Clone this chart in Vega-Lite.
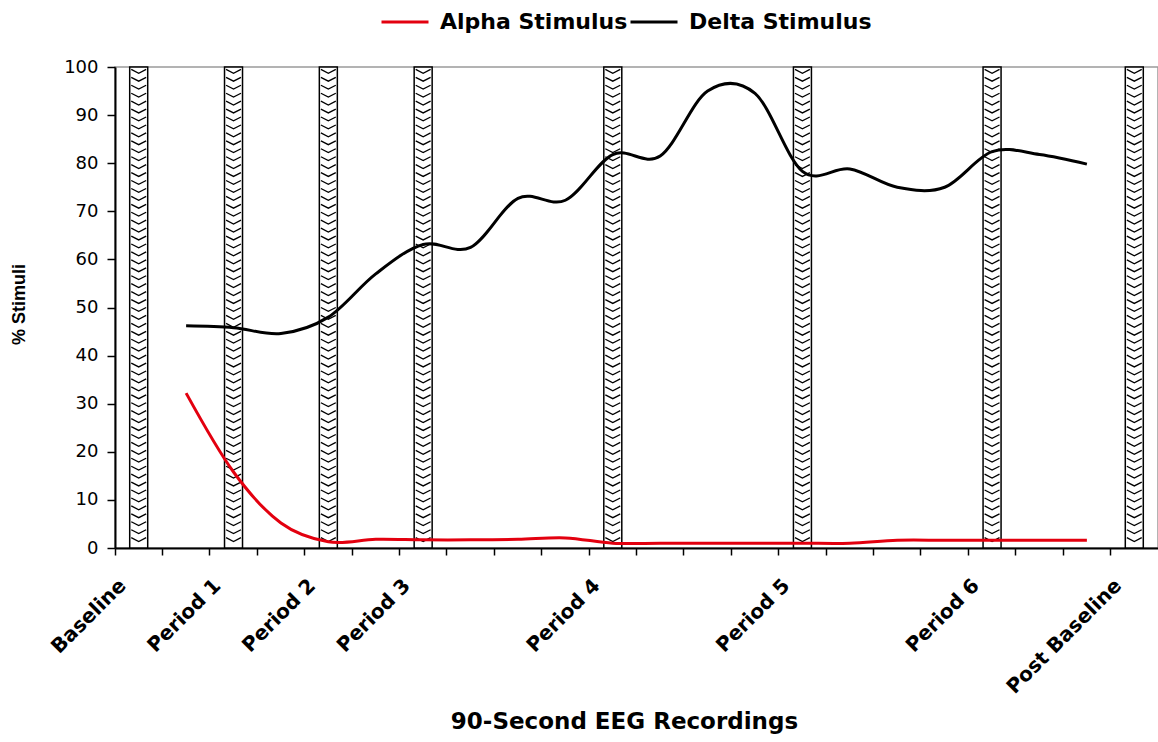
{
  "$schema": "https://vega.github.io/schema/vega-lite/v6.json",
  "width": 1043,
  "height": 481,
  "autosize": {"type": "none"},
  "padding": {"left": 115, "top": 67, "right": 0, "bottom": 194},
  "background": "white",
  "config": {
    "view": {"stroke": "#9a9a9a", "strokeWidth": 1.5},
    "font": "DejaVu Sans"
  },
  "datasets": {
    "bars": [
      {"cat": 0, "pct": 100},
      {"cat": 2, "pct": 100},
      {"cat": 4, "pct": 100},
      {"cat": 6, "pct": 100},
      {"cat": 10, "pct": 100},
      {"cat": 14, "pct": 100},
      {"cat": 18, "pct": 100},
      {"cat": 21, "pct": 100}
    ],
    "lines": [
      {"cat": 1, "series": "Alpha Stimulus", "pct": 32.2},
      {"cat": 2, "series": "Alpha Stimulus", "pct": 15.8},
      {"cat": 3, "series": "Alpha Stimulus", "pct": 5.2},
      {"cat": 4, "series": "Alpha Stimulus", "pct": 1.3},
      {"cat": 5, "series": "Alpha Stimulus", "pct": 1.8},
      {"cat": 6, "series": "Alpha Stimulus", "pct": 1.7},
      {"cat": 7, "series": "Alpha Stimulus", "pct": 1.7},
      {"cat": 8, "series": "Alpha Stimulus", "pct": 1.8},
      {"cat": 9, "series": "Alpha Stimulus", "pct": 2.1},
      {"cat": 10, "series": "Alpha Stimulus", "pct": 1.0},
      {"cat": 11, "series": "Alpha Stimulus", "pct": 1.0},
      {"cat": 12, "series": "Alpha Stimulus", "pct": 1.0},
      {"cat": 13, "series": "Alpha Stimulus", "pct": 1.0},
      {"cat": 14, "series": "Alpha Stimulus", "pct": 1.0},
      {"cat": 15, "series": "Alpha Stimulus", "pct": 1.0},
      {"cat": 16, "series": "Alpha Stimulus", "pct": 1.6},
      {"cat": 17, "series": "Alpha Stimulus", "pct": 1.6},
      {"cat": 18, "series": "Alpha Stimulus", "pct": 1.6},
      {"cat": 19, "series": "Alpha Stimulus", "pct": 1.6},
      {"cat": 20, "series": "Alpha Stimulus", "pct": 1.6},
      {"cat": 1, "series": "Delta Stimulus", "pct": 46.2},
      {"cat": 2, "series": "Delta Stimulus", "pct": 45.8},
      {"cat": 3, "series": "Delta Stimulus", "pct": 44.6},
      {"cat": 4, "series": "Delta Stimulus", "pct": 48.0},
      {"cat": 5, "series": "Delta Stimulus", "pct": 57.0},
      {"cat": 6, "series": "Delta Stimulus", "pct": 63.1},
      {"cat": 7, "series": "Delta Stimulus", "pct": 62.5},
      {"cat": 8, "series": "Delta Stimulus", "pct": 72.7},
      {"cat": 9, "series": "Delta Stimulus", "pct": 72.3},
      {"cat": 10, "series": "Delta Stimulus", "pct": 81.8},
      {"cat": 11, "series": "Delta Stimulus", "pct": 81.5},
      {"cat": 12, "series": "Delta Stimulus", "pct": 95.0},
      {"cat": 13, "series": "Delta Stimulus", "pct": 94.5},
      {"cat": 14, "series": "Delta Stimulus", "pct": 78.3},
      {"cat": 15, "series": "Delta Stimulus", "pct": 78.8},
      {"cat": 16, "series": "Delta Stimulus", "pct": 75.0},
      {"cat": 17, "series": "Delta Stimulus", "pct": 75.0},
      {"cat": 18, "series": "Delta Stimulus", "pct": 82.4},
      {"cat": 19, "series": "Delta Stimulus", "pct": 81.8},
      {"cat": 20, "series": "Delta Stimulus", "pct": 79.8}
    ]
  },
  "encoding": {
    "x": {
      "field": "cat",
      "type": "ordinal",
      "scale": {"domain": [0,1,2,3,4,5,6,7,8,9,10,11,12,13,14,15,16,17,18,19,20,21], "paddingInner": 0, "paddingOuter": 0},
      "axis": {
        "title": "90-Second EEG Recordings",
        "titleFont": "DejaVu Sans",
        "titleFontSize": 23,
        "titleFontWeight": "bold",
        "titleColor": "black",
        "titleX": 509,
        "titleY": 162,
        "bandPosition": 0,
        "domainColor": "black",
        "domainWidth": 2,
        "tickColor": "black",
        "tickWidth": 1.5,
        "tickSize": 7,
        "labelAngle": -45,
        "labelAlign": "right",
        "labelBaseline": "top",
        "labelPadding": 20,
        "labelOffset": -23,
        "labelOverlap": false,
        "labelLimit": 300,
        "labelFont": "DejaVu Sans",
        "labelFontSize": 20,
        "labelFontWeight": "bold",
        "labelColor": "black",
        "labelExpr": "datum.value == 0 ? 'Baseline' : datum.value == 2 ? 'Period 1' : datum.value == 4 ? 'Period 2' : datum.value == 6 ? 'Period 3' : datum.value == 10 ? 'Period 4' : datum.value == 14 ? 'Period 5' : datum.value == 18 ? 'Period 6' : datum.value == 21 ? 'Post Baseline' : ''"
      }
    },
    "y": {
      "field": "pct",
      "type": "quantitative",
      "scale": {"domain": [0, 100], "nice": false, "zero": true},
      "axis": {
        "title": "% Stimuli",
        "titleFont": "Liberation Sans",
        "titleFontSize": 18,
        "titleFontWeight": "bold",
        "titleColor": "black",
        "titleX": -87,
        "titleY": 237,
        "values": [0,10,20,30,40,50,60,70,80,90,100],
        "grid": false,
        "domainColor": "black",
        "domainWidth": 2,
        "tickColor": "black",
        "tickWidth": 1.5,
        "tickSize": 8,
        "labelPadding": 9,
        "labelFont": "DejaVu Sans",
        "labelFontSize": 18,
        "labelColor": "black"
      }
    }
  },
  "layer": [
    {
      "data": {"name": "bars"},
      "mark": {"type": "bar", "size": 18, "fill": "white", "stroke": "black", "strokeWidth": 1.5}
    },
    {
      "data": {"name": "bars"},
      "mark": {
        "type": "point",
        "filled": false,
        "stroke": "black",
        "strokeWidth": 1.3,
        "opacity": 1,
        "size": 231361,
        "shape": "M-0.031 -0.990 l0.031 0.016 l0.031 -0.016 M-0.031 -0.957 l0.031 0.016 l0.031 -0.016 M-0.031 -0.924 l0.031 0.016 l0.031 -0.016 M-0.031 -0.891 l0.031 0.016 l0.031 -0.016 M-0.031 -0.858 l0.031 0.016 l0.031 -0.016 M-0.031 -0.825 l0.031 0.016 l0.031 -0.016 M-0.031 -0.792 l0.031 0.016 l0.031 -0.016 M-0.031 -0.759 l0.031 0.016 l0.031 -0.016 M-0.031 -0.726 l0.031 0.016 l0.031 -0.016 M-0.031 -0.693 l0.031 0.016 l0.031 -0.016 M-0.031 -0.660 l0.031 0.016 l0.031 -0.016 M-0.031 -0.627 l0.031 0.016 l0.031 -0.016 M-0.031 -0.594 l0.031 0.016 l0.031 -0.016 M-0.031 -0.561 l0.031 0.016 l0.031 -0.016 M-0.031 -0.528 l0.031 0.016 l0.031 -0.016 M-0.031 -0.495 l0.031 0.016 l0.031 -0.016 M-0.031 -0.462 l0.031 0.016 l0.031 -0.016 M-0.031 -0.429 l0.031 0.016 l0.031 -0.016 M-0.031 -0.396 l0.031 0.016 l0.031 -0.016 M-0.031 -0.363 l0.031 0.016 l0.031 -0.016 M-0.031 -0.330 l0.031 0.016 l0.031 -0.016 M-0.031 -0.297 l0.031 0.016 l0.031 -0.016 M-0.031 -0.264 l0.031 0.016 l0.031 -0.016 M-0.031 -0.231 l0.031 0.016 l0.031 -0.016 M-0.031 -0.198 l0.031 0.016 l0.031 -0.016 M-0.031 -0.165 l0.031 0.016 l0.031 -0.016 M-0.031 -0.132 l0.031 0.016 l0.031 -0.016 M-0.031 -0.099 l0.031 0.016 l0.031 -0.016 M-0.031 -0.066 l0.031 0.016 l0.031 -0.016 M-0.031 -0.033 l0.031 0.016 l0.031 -0.016 M-0.031 0.000 l0.031 0.016 l0.031 -0.016 M-0.031 0.033 l0.031 0.016 l0.031 -0.016 M-0.031 0.066 l0.031 0.016 l0.031 -0.016 M-0.031 0.099 l0.031 0.016 l0.031 -0.016 M-0.031 0.132 l0.031 0.016 l0.031 -0.016 M-0.031 0.165 l0.031 0.016 l0.031 -0.016 M-0.031 0.198 l0.031 0.016 l0.031 -0.016 M-0.031 0.231 l0.031 0.016 l0.031 -0.016 M-0.031 0.264 l0.031 0.016 l0.031 -0.016 M-0.031 0.297 l0.031 0.016 l0.031 -0.016 M-0.031 0.330 l0.031 0.016 l0.031 -0.016 M-0.031 0.363 l0.031 0.016 l0.031 -0.016 M-0.031 0.396 l0.031 0.016 l0.031 -0.016 M-0.031 0.429 l0.031 0.016 l0.031 -0.016 M-0.031 0.462 l0.031 0.016 l0.031 -0.016 M-0.031 0.495 l0.031 0.016 l0.031 -0.016 M-0.031 0.528 l0.031 0.016 l0.031 -0.016 M-0.031 0.561 l0.031 0.016 l0.031 -0.016 M-0.031 0.594 l0.031 0.016 l0.031 -0.016 M-0.031 0.627 l0.031 0.016 l0.031 -0.016 M-0.031 0.660 l0.031 0.016 l0.031 -0.016 M-0.031 0.693 l0.031 0.016 l0.031 -0.016 M-0.031 0.726 l0.031 0.016 l0.031 -0.016 M-0.031 0.759 l0.031 0.016 l0.031 -0.016 M-0.031 0.792 l0.031 0.016 l0.031 -0.016 M-0.031 0.825 l0.031 0.016 l0.031 -0.016 M-0.031 0.858 l0.031 0.016 l0.031 -0.016 M-0.031 0.891 l0.031 0.016 l0.031 -0.016 M-0.031 0.924 l0.031 0.016 l0.031 -0.016 M-0.031 0.957 l0.031 0.016 l0.031 -0.016"
      },
      "encoding": {
        "y": {"datum": 50, "type": "quantitative"}
      }
    },
    {
      "data": {"name": "lines"},
      "mark": {"type": "line", "interpolate": "cardinal", "tension": 0, "strokeWidth": 3},
      "encoding": {
        "color": {
          "field": "series",
          "type": "nominal",
          "scale": {"domain": ["Alpha Stimulus", "Delta Stimulus"], "range": ["#e3000f", "#000000"]},
          "legend": {
            "title": null,
            "orient": "none",
            "direction": "horizontal",
            "legendX": 265,
            "legendY": -70,
            "padding": 0,
            "symbolType": "stroke",
            "symbolSize": 2209,
            "symbolStrokeWidth": 3,
            "labelOffset": 10,
            "columnPadding": -4,
            "labelFont": "DejaVu Sans",
            "labelFontSize": 22,
            "labelFontWeight": "bold",
            "labelColor": "black",
            "labelLimit": 400
          }
        }
      }
    }
  ]
}
